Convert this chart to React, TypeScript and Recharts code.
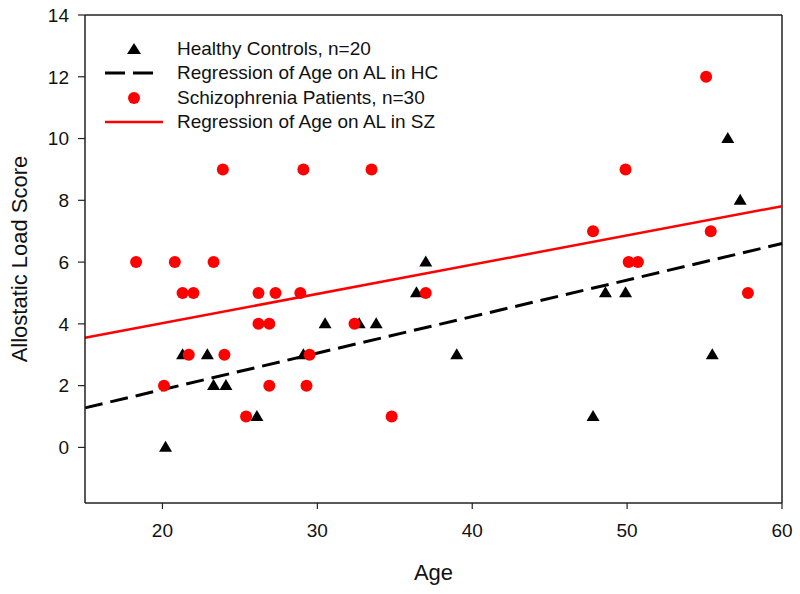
import React from 'react';
import {
  ScatterChart,
  Scatter,
  XAxis,
  YAxis,
  ReferenceLine,
} from 'recharts';

// Healthy controls (age, allostatic load score)
const hcAge = [20.2, 21.3, 22.9, 23.3, 24.1, 26.1, 29.1, 30.5, 32.7, 33.8, 36.4, 37.0, 39.0, 47.8, 48.6, 49.9, 55.5, 56.5, 57.3];
const hcScore = [0, 3, 3, 2, 2, 1, 3, 4, 4, 4, 5, 6, 3, 1, 5, 5, 3, 10, 8];

// Schizophrenia patients
const szAge = [18.3, 20.1, 20.8, 21.3, 21.7, 22.0, 23.3, 23.9, 24.0, 25.4, 26.2, 26.2, 26.9, 26.9, 27.3, 28.9, 29.1, 29.3, 29.5, 32.4, 33.5, 34.8, 37.0, 47.8, 49.9, 50.1, 50.7, 55.1, 55.4, 57.8];
const szScore = [6, 2, 6, 5, 3, 5, 6, 9, 3, 1, 5, 4, 4, 2, 5, 5, 9, 2, 3, 4, 9, 1, 5, 7, 9, 6, 6, 12, 7, 5];

// regression line end points [age, score]
const hcFit = [[15, 1.28], [60, 6.6]];
const szFit = [[15, 3.55], [60, 7.81]];

const xTicks = [20, 30, 40, 50, 60];
const yTicks = [0, 2, 4, 6, 8, 10, 12, 14];

const legendItems = [
  { key: 'hc', label: 'Healthy Controls, n=20' },
  { key: 'hcFit', label: 'Regression of Age on AL in HC' },
  { key: 'sz', label: 'Schizophrenia Patients, n=30' },
  { key: 'szFit', label: 'Regression of Age on AL in SZ' },
];

const hcData = hcAge.map((age, i) => ({ age, score: hcScore[i] }));
const szData = szAge.map((age, i) => ({ age, score: szScore[i] }));

const FONT = '"Liberation Sans", Arial, Helvetica, sans-serif';
const RED = '#ff0000';

const Triangle = (props: any) => {
  const { cx, cy } = props;
  if (cx == null || cy == null) return null;
  const w = 13;
  const h = 11;
  return (
    <polygon
      points={`${cx},${cy - h * 0.6} ${cx - w / 2},${cy + h * 0.4} ${cx + w / 2},${cy + h * 0.4}`}
      fill="#000"
    />
  );
};

const Dot = (props: any) => {
  const { cx, cy } = props;
  if (cx == null || cy == null) return null;
  return <circle cx={cx} cy={cy} r={6} fill={RED} />;
};

const LegendIcon = ({ kind }: { kind: string }) => (
  <svg width={70} height={20} style={{ display: 'block' }}>
    {kind === 'hc' && <polygon points="29,4 22,15 36,15" fill="#000" />}
    {kind === 'hcFit' && (
      <line x1={0} y1={10} x2={48} y2={10} stroke="#000" strokeWidth={3} strokeDasharray="20 8" />
    )}
    {kind === 'sz' && <circle cx={29} cy={10} r={6} fill={RED} />}
    {kind === 'szFit' && <line x1={0} y1={10} x2={58} y2={10} stroke={RED} strokeWidth={2.5} />}
  </svg>
);

export default function App() {
  return (
    <div style={{ position: 'absolute', left: 0, top: 0, width: 800, height: 594, fontFamily: FONT, background: '#fff' }}>
      <ScatterChart width={800} height={594} margin={{ top: 15, right: 18, bottom: 0, left: 0 }}>
        <XAxis
          type="number"
          dataKey="age"
          domain={[15, 60]}
          ticks={xTicks}
          allowDataOverflow
          height={91}
          tickSize={6}
          tickMargin={15}
          axisLine={{ stroke: '#222', strokeWidth: 1.5 }}
          tickLine={{ stroke: '#222', strokeWidth: 1.2 }}
          tick={{ fill: '#111', fontSize: 19, fontFamily: FONT }}
          label={{ value: 'Age', position: 'insideBottom', offset: 14, style: { fontSize: 22, fill: '#111', fontFamily: FONT } }}
        />
        <YAxis
          type="number"
          dataKey="score"
          domain={[-1.8, 14]}
          ticks={yTicks}
          allowDataOverflow
          width={85}
          tickSize={7}
          tickMargin={9}
          axisLine={{ stroke: '#222', strokeWidth: 1.5 }}
          tickLine={{ stroke: '#222', strokeWidth: 1.2 }}
          tick={{ fill: '#111', fontSize: 19, fontFamily: FONT }}
          label={{
            value: 'Allostatic Load Score',
            angle: -90,
            position: 'insideLeft',
            offset: 19,
            style: { textAnchor: 'middle', fontSize: 22, fill: '#111', fontFamily: FONT },
          }}
        />
        <ReferenceLine y={14} stroke="#222" strokeWidth={1.5} />
        <ReferenceLine x={60} stroke="#222" strokeWidth={1.5} />
        <Scatter data={hcData} shape={Triangle} isAnimationActive={false} />
        <Scatter data={szData} shape={Dot} isAnimationActive={false} />
        <ReferenceLine
          segment={[{ x: hcFit[0][0], y: hcFit[0][1] }, { x: hcFit[1][0], y: hcFit[1][1] }]}
          stroke="#000"
          strokeWidth={3}
          strokeDasharray="18 8"
        />
        <ReferenceLine
          segment={[{ x: szFit[0][0], y: szFit[0][1] }, { x: szFit[1][0], y: szFit[1][1] }]}
          stroke={RED}
          strokeWidth={2.5}
        />
      </ScatterChart>
      <div style={{ position: 'absolute', left: 105, top: 37 }}>
        {legendItems.map((item) => (
          <div key={item.key} style={{ display: 'flex', alignItems: 'center', height: 24.3 }}>
            <LegendIcon kind={item.key} />
            <span style={{ fontSize: 19, color: '#111', marginLeft: 2, whiteSpace: 'nowrap' }}>{item.label}</span>
          </div>
        ))}
      </div>
    </div>
  );
}
